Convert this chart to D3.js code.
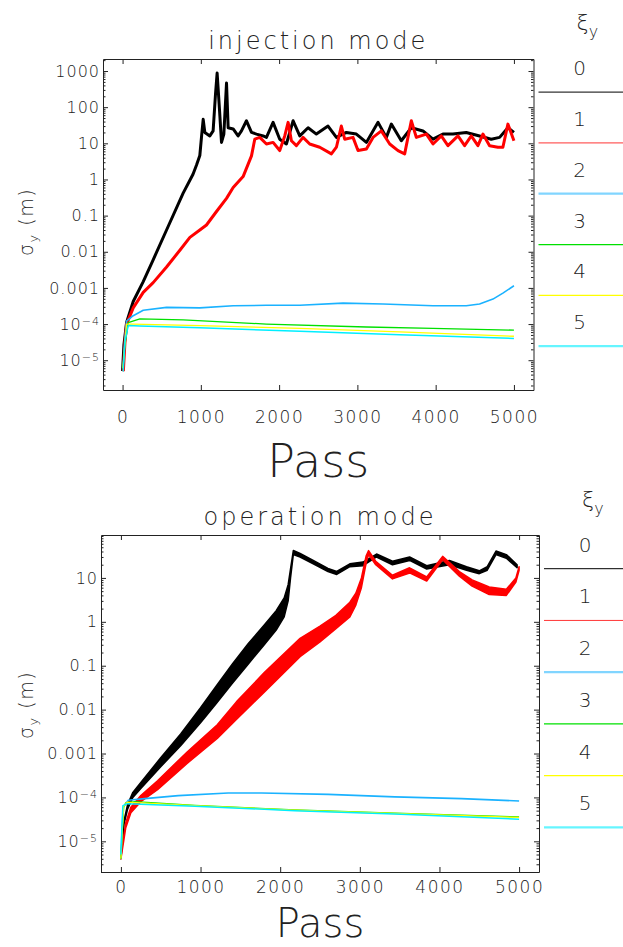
<!DOCTYPE html>
<html>
<head>
<meta charset="utf-8">
<script src="https://cdn.jsdelivr.net/npm/d3@7"></script>
<style>
  body { margin: 0; background: #fff; }
  svg text { font-family: "DejaVu Sans", "Liberation Sans", sans-serif; font-weight: 200; fill: #222; }
</style>
</head>
<body>
<svg id="chart" width="623" height="947"></svg>
<script>
// ---------- data ----------
const passTicks = [0, 1000, 2000, 3000, 4000, 5000];
const xiLabels = ["0", "1", "2", "3", "4", "5"];
const seriesColors = ["#000000", "#ff0000", "#1ab2ff", "#00e000", "#ffff00", "#00eeff"];

const injLabels = [1000, 100, 10, 1, 0.1, 0.01, 0.001, 1e-4, 1e-5];
const opLabels = [10, 1, 0.1, 0.01, 0.001, 1e-4, 1e-5];

// injection mode, [pass, sigma_y (m)]
const inj0 = [[0,5e-6],[17,2.6e-5],[51,1.1e-4],[136,4.2e-4],[264,1.5e-3],[391,6e-3],[562,0.04],[774,0.42],[900,1.4],[945,2.5],[987,4.6],[1008,14.6],[1030,46],[1051,20],[1115,16],[1157,22],[1187,224],[1208,880],[1234,120],[1264,10.6],[1294,18],[1328,465],[1349,27],[1413,25],[1476,16],[1519,22],[1583,42],[1647,20],[1711,18],[1796,16],[1838,14.6],[1923,38],[2008,13],[2093,9.6],[2179,42],[2264,16],[2370,27],[2476,18],[2625,30],[2732,14.6],[2859,20],[2987,18],[3115,10.6],[3264,38],[3370,14.6],[3434,34],[3561,11.8],[3689,27],[3838,22],[3966,13],[4093,18],[4221,18],[4391,20],[4561,16],[4710,13],[4817,14.6],[4923,27],[5000,20]];
const inj1 = [[10,5e-6],[30,3e-5],[51,1e-4],[136,2.8e-4],[264,7.5e-4],[391,1.4e-3],[562,3.8e-3],[732,0.011],[860,0.025],[987,0.04],[1072,0.055],[1200,0.13],[1328,0.3],[1413,0.6],[1540,1.2],[1647,4.5],[1689,13],[1753,14.6],[1838,9.6],[1923,10.6],[2008,6.3],[2072,16],[2115,38],[2157,11.8],[2221,8.6],[2306,14.6],[2391,9.6],[2519,7.8],[2668,5.1],[2732,7.8],[2795,30],[2838,13],[2944,14.6],[3008,6.3],[3115,7],[3200,14.6],[3306,22],[3413,9.6],[3519,6.3],[3604,5.1],[3689,42],[3753,14.6],[3881,18],[3966,9.6],[4072,16],[4157,8.6],[4285,16],[4370,8.6],[4455,16],[4540,8.6],[4604,18],[4689,8.6],[4795,7.8],[4859,7.8],[4923,34],[5000,11.8]];
const inj2 = [[5,6e-6],[30,4e-5],[51,1.2e-4],[136,1.7e-4],[264,2.4e-4],[562,2.9e-4],[987,2.8e-4],[1413,3.2e-4],[1838,3.3e-4],[2264,3.3e-4],[2817,3.8e-4],[3327,3.6e-4],[3966,3.2e-4],[4391,3.2e-4],[4561,3.6e-4],[4732,4.9e-4],[4859,7.2e-4],[5000,1.15e-3]];
const inj3 = [[5,6e-6],[30,2.6e-5],[72,1.1e-4],[221,1.4e-4],[774,1.3e-4],[1838,1.0e-4],[3115,8.3e-5],[3966,7.6e-5],[5000,6.8e-5]];
const inj4 = [[5,6e-6],[30,3e-5],[51,1.0e-4],[136,1.0e-4],[987,9.1e-5],[2264,7.6e-5],[3540,6.1e-5],[5000,4.6e-5]];
const inj5 = [[8,4.9e-6],[30,3.2e-5],[72,9.1e-5],[221,8.8e-5],[987,7.9e-5],[2264,6.3e-5],[3540,5.1e-5],[5000,4.0e-5]];

// operation mode, black and red are wide bands: [pass, low, high]
const op0 = [[0,4e-6,4.6e-6],[40,2.5e-5,3e-5],[85,5.5e-5,7e-5],[150,1e-4,1.3e-4],[250,1.6e-4,2.2e-4],[500,5e-4,8e-4],[750,1.5e-3,2.8e-3],[1000,5e-3,1.1e-2],[1200,0.014,0.035],[1400,0.04,0.11],[1600,0.11,0.32],[1800,0.3,0.85],[1950,0.65,1.8],[2050,1.3,3.5],[2100,3,7],[2130,10,16],[2165,34,42],[2250,30,36],[2415,21,25],[2600,14,16.5],[2710,12,14],[2875,18,21],[3040,19,23],[3210,30,35],[3410,20,24],[3625,25,30],[3840,16,19],[4125,20,25],[4340,15,18],[4500,12.5,14.5],[4600,15,18],[4710,34,41],[4840,28,34],[4975,17,20]];
const op1 = [[0,4e-6,4.6e-6],[60,2e-5,2.6e-5],[125,4.5e-5,6e-5],[250,8e-5,1.1e-4],[460,1.5e-4,2.4e-4],[835,6e-4,1.1e-3],[1210,2.2e-3,4.5e-3],[1450,6e-3,1.5e-2],[1800,0.025,0.07],[2250,0.16,0.42],[2500,0.35,0.8],[2700,0.7,1.4],[2875,1.3,2.8],[2950,2.4,4.5],[3020,6,10],[3080,22,32],[3110,34,42],[3200,20,24],[3410,9.5,11.5],[3625,13,17],[3840,8.5,10.5],[4040,26,31],[4250,11,14],[4410,6.5,9],[4625,4.2,6.2],[4840,4,5.5],[4960,8,10],[5000,15,18]];
const op2 = [[0,4e-6],[15,2e-5],[30,6e-5],[92,8.6e-5],[301,9.4e-5],[720,1.1e-4],[1347,1.26e-4],[1766,1.26e-4],[2602,1.17e-4],[3439,1.03e-4],[4276,9.4e-5],[5000,8.3e-5]];
const op3 = [[0,4e-6],[15,1.5e-5],[35,6e-5],[60,7.5e-5],[176,8e-5],[929,6.6e-5],[2184,5.2e-5],[3439,4.4e-5],[5000,3.6e-5]];
const op4 = [[0,4e-6],[15,1.5e-5],[35,6.2e-5],[80,7.8e-5],[929,6.5e-5],[2184,5.1e-5],[3439,4.3e-5],[5000,3.5e-5]];
const op5 = [[0,5e-6],[12,2e-5],[25,6.5e-5],[80,7.2e-5],[929,6.3e-5],[2184,5e-5],[3439,4.2e-5],[5000,3.2e-5]];

// ---------- drawing ----------
const svg = d3.select("#chart");
const W = 623;

// all k*10^n inside a log domain, minor ones only
function minorTicks(domain) {
    const out = [];
    for (let e = Math.floor(Math.log10(domain[0])); e <= Math.ceil(Math.log10(domain[1])); e++) {
        for (let k = 2; k <= 9; k++) {
            const v = k * Math.pow(10, e);
            if (v >= domain[0] && v <= domain[1]) out.push(v);
        }
    }
    return out;
}

// 1000 .. 0.001 written out, smaller values as 10 with a raised exponent
function fixLabels(axisG) {
    axisG.selectAll(".tick text").each(function(v) {
        const e = Math.round(Math.log10(v));
        const t = d3.select(this);
        if (e >= -3) {
            t.text(v >= 1 ? String(v) : v.toFixed(-e));
        } else {
            t.text("10");
            t.append("tspan").attr("dy", "-0.45em").style("font-size", "11px").text("\u2212" + (-e));
        }
    });
}

function drawPanel(p) {
    const x = d3.scaleLinear().domain([-250, 5250]).range([p.left, p.right]);
    const y = d3.scaleLog().domain(p.yDomain).range([p.bottom, p.top]);
    const g = svg.append("g");

    // curves, black first so the others sit on top
    const line = d3.line().x(d => x(d[0])).y(d => y(d[1]));
    const area = d3.area().x(d => x(d[0])).y0(d => y(d[1])).y1(d => y(d[2]));

    p.series.forEach((s, i) => {
        if (s[0].length === 3) {
            g.append("path").datum(s)
                .attr("fill", seriesColors[i])
                .attr("stroke", seriesColors[i])
                .attr("stroke-width", 1.5)
                .attr("stroke-linejoin", "round")
                .attr("d", area);
        } else {
            g.append("path").datum(s)
                .attr("fill", "none")
                .attr("stroke", seriesColors[i])
                .attr("stroke-width", p.widths[i])
                .attr("stroke-linejoin", "round")
                .attr("d", line);
        }
    });

    // frame with inward ticks
    const ax = g.append("g").attr("color", "#222");
    const bottomAxis = ax.append("g")
        .attr("transform", "translate(0," + p.bottom + ")")
        .call(d3.axisBottom(x).tickValues(passTicks).tickFormat(d3.format("d"))
            .tickSizeInner(-5).tickSizeOuter(0).tickPadding(p.xPad));
    bottomAxis.selectAll(".tick text").style("font-size", "17px").style("letter-spacing", "1.5px");

    ax.append("g")
        .attr("transform", "translate(0," + p.top + ")")
        .call(d3.axisTop(x).tickValues(passTicks).tickSizeInner(-5).tickSizeOuter(0).tickFormat(""));

    const leftAxis = ax.append("g")
        .attr("transform", "translate(" + p.left + ",0)")
        .call(d3.axisLeft(y).tickValues(p.labels).tickSizeInner(-5).tickSizeOuter(0).tickPadding(3));
    leftAxis.selectAll(".tick text").style("font-size", "16px").style("letter-spacing", "1px");
    fixLabels(leftAxis);

    ax.append("g")
        .attr("transform", "translate(" + p.left + ",0)")
        .call(d3.axisLeft(y).tickValues(minorTicks(p.yDomain)).tickSizeInner(-2.5).tickSizeOuter(0).tickFormat(""))
        .select(".domain").remove();

    ax.append("g")
        .attr("transform", "translate(" + p.right + ",0)")
        .call(d3.axisRight(y).tickValues(p.labels).tickSizeInner(-5).tickSizeOuter(0).tickFormat(""));
    ax.append("g")
        .attr("transform", "translate(" + p.right + ",0)")
        .call(d3.axisRight(y).tickValues(minorTicks(p.yDomain)).tickSizeInner(-2.5).tickSizeOuter(0).tickFormat(""))
        .select(".domain").remove();

    // titles
    g.append("text")
        .attr("x", (p.left + p.right) / 2)
        .attr("y", p.top - 10)
        .attr("text-anchor", "middle")
        .style("font-size", "24px")
        .style("letter-spacing", "3px")
        .text(p.title);

    g.append("text")
        .attr("x", (p.left + p.right) / 2)
        .attr("y", p.passY)
        .attr("text-anchor", "middle")
        .style("font-size", p.passSize + "px")
        .text("Pass");

    const yt = g.append("text")
        .attr("transform", "translate(33," + p.yTitleY + ") rotate(-90)")
        .attr("text-anchor", "middle")
        .style("font-size", "19px")
        .style("letter-spacing", "1.5px");
    yt.append("tspan").text("\u03c3");
    yt.append("tspan").attr("dy", 5).style("font-size", "13px").text("y");
    yt.append("tspan").attr("dy", -5).text(" (m)");

    // legend on the right
    const h = p.bottom - p.top;
    const first = p.top + 0.1 * h;
    const step = 0.1535 * h;
    const legendWidth = [1, 1, 2.2, 1.2, 1.2, 2.2];
    const legendOpacity = [1, 0.8, 0.55, 1, 1, 0.6];
    const leg = g.append("g");
    const hd = leg.append("text")
        .attr("x", p.right + 43)
        .attr("y", first - 62)
        .style("font-size", "22px");
    hd.append("tspan").text("\u03be");
    hd.append("tspan").attr("dy", 7).style("font-size", "16px").text("y");

    xiLabels.forEach((lab, i) => {
        const ly = first + i * step;
        leg.append("line")
            .attr("x1", p.right + 5).attr("x2", W)
            .attr("y1", ly).attr("y2", ly)
            .attr("stroke", seriesColors[i])
            .attr("stroke-opacity", legendOpacity[i])
            .attr("stroke-width", legendWidth[i]);
        leg.append("text")
            .attr("x", p.right + 46)
            .attr("y", ly - 17)
            .attr("text-anchor", "middle")
            .style("font-size", "20px")
            .text(lab);
    });
}

drawPanel({
    title: "injection mode",
    left: 103, right: 533.5, top: 59, bottom: 390,
    yDomain: [1.5e-6, 2150],
    labels: injLabels,
    series: [inj0, inj1, inj2, inj3, inj4, inj5],
    widths: [3, 3, 1.6, 1.3, 1.3, 1.5],
    xPad: 21, passY: 477, passSize: 46, yTitleY: 222
});

drawPanel({
    title: "operation mode",
    left: 101, right: 539, top: 535, bottom: 872,
    yDomain: [2e-6, 95],
    labels: opLabels,
    series: [op0, op1, op2, op3, op4, op5],
    widths: [2, 2, 1.6, 1.3, 1.3, 1.5],
    xPad: 9, passY: 937, passSize: 40, yTitleY: 705
});
</script>
</body>
</html>
